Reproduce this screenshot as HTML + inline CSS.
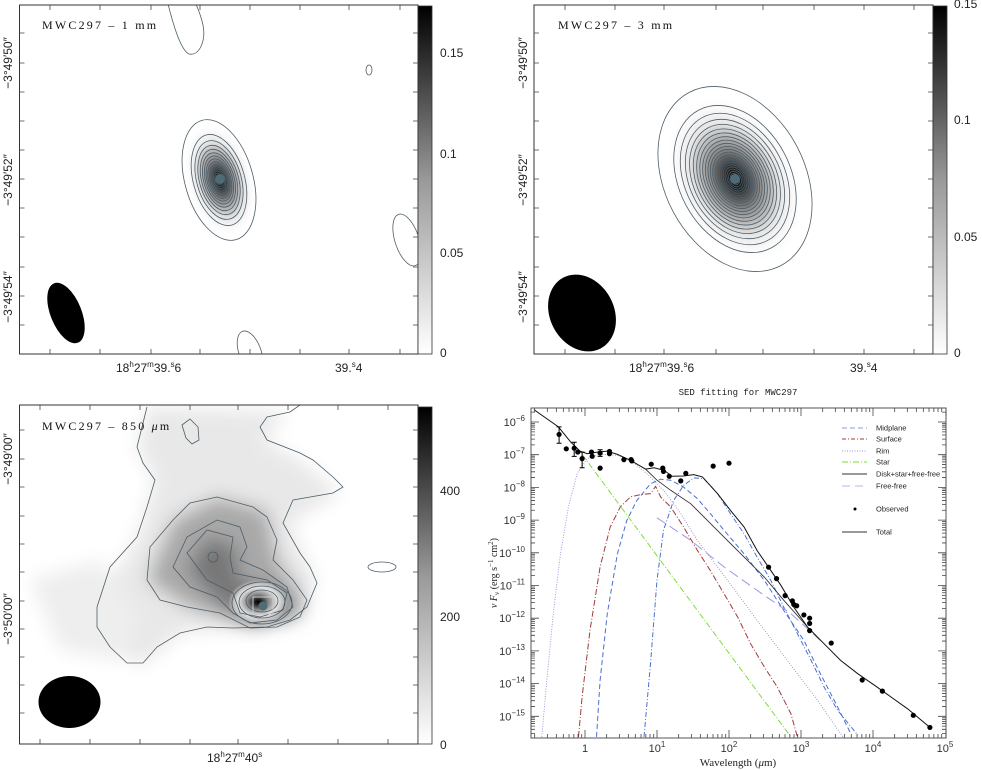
<!DOCTYPE html>
<html><head><meta charset="utf-8"><style>
html,body{margin:0;padding:0;background:#fff;}
svg{display:block;font-family:"Liberation Sans",sans-serif;}
.ct{fill:none;stroke:#4d5d68;stroke-width:0.8;}
.ttl{font-family:"Liberation Serif",serif;font-size:12px;fill:#111;letter-spacing:2.2px;}
.lab{font-size:12px;fill:#222;}
.sml{font-size:7.5px;fill:#222;}
</style></head><body>
<svg id="fig" width="982" height="770" viewBox="0 0 982 770" xmlns="http://www.w3.org/2000/svg">
<defs>
<linearGradient id="cbar" x1="0" y1="1" x2="0" y2="0"><stop offset="0" stop-color="#fff"/><stop offset="0.5" stop-color="#999"/><stop offset="1" stop-color="#000"/></linearGradient>
<radialGradient id="g1"><stop offset="0" stop-color="#000"/><stop offset="0.12" stop-color="#222"/><stop offset="0.35" stop-color="#888"/><stop offset="0.65" stop-color="#e4e4e4"/><stop offset="1" stop-color="#fff" stop-opacity="0"/></radialGradient>
<filter id="blur8"><feGaussianBlur stdDeviation="9"/></filter>
<clipPath id="c1"><rect x="19" y="5" width="399" height="349"/></clipPath>
<clipPath id="c2"><rect x="534" y="5" width="399" height="349"/></clipPath>
<clipPath id="c3"><rect x="19" y="405" width="399" height="339"/></clipPath>
<clipPath id="c4"><rect x="531" y="408" width="415" height="330"/></clipPath>
</defs>

<!-- Panel 1: 1 mm -->
<g>
<g clip-path="url(#c1)">
<ellipse cx="220" cy="180" rx="34" ry="60" transform="rotate(-16 220 180)" fill="url(#g1)"/>
<g id="cont1"></g>
<path class="ct" d="M167,0 C172,20 180,50 189,54 C200,56 206,40 203,25 C200,12 196,4 194,0"/>
<ellipse class="ct" cx="369" cy="70" rx="3" ry="5"/>
<ellipse class="ct" cx="407" cy="240" rx="12" ry="27" transform="rotate(-18 407 240)"/>
<ellipse class="ct" cx="250" cy="352" rx="11" ry="22" transform="rotate(-20 250 352)"/>
<ellipse cx="66" cy="313" rx="15.5" ry="32" transform="rotate(-22 66 313)" fill="#000"/>
<circle cx="220" cy="179" r="5" fill="#4f6b77"/>
</g>
<rect x="19.5" y="5" width="398.5" height="349" fill="none" stroke="#333" stroke-width="1"/>
<rect x="418" y="6" width="14" height="348" fill="url(#cbar)" stroke="#333" stroke-width="0.8"/>
<text class="ttl" x="42" y="29">MWC297 – 1 mm</text>
<text class="lab" x="440" y="57">0.15</text>
<text class="lab" x="440" y="158">0.1</text>
<text class="lab" x="440" y="257">0.05</text>
<text class="lab" x="440" y="357">0</text>
<text class="lab" x="116" y="372">18<tspan font-size="8" dy="-5">h</tspan><tspan dy="5">27</tspan><tspan font-size="8" dy="-5">m</tspan><tspan dy="5">39.</tspan><tspan font-size="8" dy="-5">s</tspan><tspan dy="5">6</tspan></text>
<text class="lab" x="335" y="372">39.<tspan font-size="8" dy="-5">s</tspan><tspan dy="5">4</tspan></text>
<text class="lab" transform="translate(12,63) rotate(-90)" text-anchor="middle">−3°49′50″</text>
<text class="lab" transform="translate(12,180) rotate(-90)" text-anchor="middle">−3°49′52″</text>
<text class="lab" transform="translate(12,297) rotate(-90)" text-anchor="middle">−3°49′54″</text>
</g>

<!-- Panel 2: 3 mm -->
<g>
<g clip-path="url(#c2)">
<ellipse cx="735" cy="179" rx="62" ry="90" transform="rotate(-28 735 179)" fill="url(#g1)"/>
<g id="cont2"></g>
<ellipse cx="582" cy="313" rx="32" ry="40" transform="rotate(-28 582 313)" fill="#000"/>
<circle cx="735" cy="179" r="5" fill="#4f6b77"/>
</g>
<rect x="534" y="5" width="399" height="349" fill="none" stroke="#333" stroke-width="1"/>
<rect x="933" y="6" width="14" height="348" fill="url(#cbar)" stroke="#333" stroke-width="0.8"/>
<text class="ttl" x="558" y="29">MWC297 – 3 mm</text>
<text class="lab" x="954" y="8">0.15</text>
<text class="lab" x="954" y="124">0.1</text>
<text class="lab" x="954" y="241">0.05</text>
<text class="lab" x="954" y="357">0</text>
<text class="lab" x="629" y="372">18<tspan font-size="8" dy="-5">h</tspan><tspan dy="5">27</tspan><tspan font-size="8" dy="-5">m</tspan><tspan dy="5">39.</tspan><tspan font-size="8" dy="-5">s</tspan><tspan dy="5">6</tspan></text>
<text class="lab" x="850" y="372">39.<tspan font-size="8" dy="-5">s</tspan><tspan dy="5">4</tspan></text>
<text class="lab" transform="translate(527,63) rotate(-90)" text-anchor="middle">−3°49′50″</text>
<text class="lab" transform="translate(527,180) rotate(-90)" text-anchor="middle">−3°49′52″</text>
<text class="lab" transform="translate(527,297) rotate(-90)" text-anchor="middle">−3°49′54″</text>
</g>

<!-- Panel 3: 850 um -->
<g>
<g clip-path="url(#c3)">
<g filter="url(#blur8)">
<path fill="#e8e8e8" d="M147,407 L137,447 L155,480 L137,537 L97,607 L110,647 L143,665 L180,633 L233,628 L290,620 L316,583 L290,523 L340,493 L300,460 L262,440 L290,412 Z"/>
<path fill="#eeeeee" d="M30,580 L100,560 L140,620 L120,660 L60,650 Z"/>
<path fill="#a8a8a8" d="M147,580 L173,520 L217,497 L267,510 L278,560 L306,600 L300,617 L250,628 L187,607 Z"/>
<path fill="#777" d="M187,570 L207,537 L235,545 L240,580 L280,590 L295,615 L255,625 L220,605 Z"/>
</g>
<ellipse cx="258" cy="602" rx="30" ry="22" fill="url(#g1)"/>
<g>
<path class="ct" d="M147,407 L137,447 L143,463 L155,480 L147,507 L137,537 L110,567 L97,607 L97,627 L110,647 L127,663 L143,663 L157,647 L180,633 L207,627 L233,628 L267,627 L290,620 L307,607 L317,583 L310,567 L300,553 L283,523 L293,500 L333,493 L343,487 L333,477 L313,460 L300,453 L267,440 L260,427 L267,417 L290,412 L300,405"/>
<path class="ct" d="M147,580 L150,547 L173,520 L190,503 L217,497 L253,507 L267,517 L277,540 L273,560 L293,580 L307,600 L300,617 L277,627 L250,628 L220,613 L187,607 L160,600 Z"/>
<path class="ct" d="M173,567 L187,537 L217,520 L240,527 L247,547 L240,560 L263,570 L287,587 L293,607 L277,620 L250,623 L233,613 L217,597 L190,587 Z"/>
<path class="ct" d="M187,553 L207,530 L233,537 L230,557 L233,573 L267,580 L287,593 L283,610 L260,617 L240,613 L233,593 L207,580 Z"/>
<ellipse class="ct" cx="262" cy="603" rx="30" ry="21"/>
<ellipse class="ct" cx="262" cy="602" rx="23" ry="16"/>
<ellipse class="ct" cx="262" cy="601" rx="16" ry="11"/>
<ellipse class="ct" cx="213" cy="557" rx="5" ry="5"/>
<path class="ct" d="M182,425 L190,419 L198,427 L199,440 L192,444 L186,438 Z"/>
<ellipse class="ct" cx="382" cy="567" rx="14" ry="5"/>
</g>
<rect x="253" y="597" width="20" height="17" fill="none" stroke="#ccc" stroke-width="1"/>
<circle cx="263" cy="606" r="4.5" fill="#4f6b77"/>
<ellipse cx="69.5" cy="702" rx="31" ry="26" fill="#000"/>
</g>
<rect x="19.5" y="405" width="398.5" height="339" fill="none" stroke="#333" stroke-width="1"/>
<rect x="418" y="407" width="14" height="337" fill="url(#cbar)" stroke="#333" stroke-width="0.8"/>
<text class="ttl" x="42" y="430">MWC297 – 850 <tspan font-style="italic">μ</tspan>m</text>
<text class="lab" x="440" y="495">400</text>
<text class="lab" x="440" y="621">200</text>
<text class="lab" x="440" y="749">0</text>
<text class="lab" x="207" y="762">18<tspan font-size="8" dy="-5">h</tspan><tspan dy="5">27</tspan><tspan font-size="8" dy="-5">m</tspan><tspan dy="5">40</tspan><tspan font-size="8" dy="-5">s</tspan></text>
<text class="lab" transform="translate(12,459) rotate(-90)" text-anchor="middle">−3°49′00″</text>
<text class="lab" transform="translate(12,619) rotate(-90)" text-anchor="middle">−3°50′00″</text>
</g>

<!-- Panel 4: SED -->
<g>
<text x="738" y="395" text-anchor="middle" font-family="Liberation Mono, monospace" font-size="9" fill="#222">SED fitting for MWC297</text>
<g clip-path="url(#c4)" id="sedMarks"></g>
<rect x="531" y="408" width="415" height="330" fill="none" stroke="#555" stroke-width="1"/>
<g id="sedAxes"></g>
<text x="738" y="766" text-anchor="middle" font-family="Liberation Serif, serif" font-size="11" fill="#222">Wavelength (<tspan font-style="italic">μ</tspan>m)</text>
<text transform="translate(497,573) rotate(-90)" text-anchor="middle" font-family="Liberation Serif, serif" font-size="10" fill="#222"><tspan font-style="italic">ν F</tspan><tspan font-size="7" dy="2">ν</tspan><tspan dy="-2"> (erg s</tspan><tspan font-size="7" dy="-4">−1</tspan><tspan dy="4"> cm</tspan><tspan font-size="7" dy="-4">2</tspan><tspan dy="4">)</tspan></text>
<g id="legend"></g>
</g>
</svg>
<script>
// ===== SED data (log10 wavelength [um], log10 nuFnu [erg s-1 cm-2]) =====
var obsLogLam = [-0.36,-0.26,-0.15,-0.10,-0.04,0.09,0.10,0.21,0.21,0.34,0.34,0.54,0.64,0.65,0.92,1.08,1.09,1.17,1.33,1.40,1.78,2.00,2.55,2.66,2.78,2.88,2.90,2.94,3.04,3.12,3.12,3.12,3.42,3.85,4.13,4.56,4.79];
var obsLogF   = [-6.38,-6.82,-6.80,-6.92,-7.12,-6.92,-7.05,-6.95,-7.41,-6.90,-6.97,-7.15,-7.15,-7.19,-7.29,-7.41,-7.51,-7.66,-7.80,-7.57,-7.35,-7.26,-10.44,-10.79,-11.31,-11.47,-11.58,-11.62,-11.90,-12.00,-12.16,-12.38,-12.76,-13.89,-14.23,-14.97,-15.34];
var obsErrIdx = [0,2,4,7];
var obsErrHi  = [-6.15,-6.62,-6.92,-6.85];
var obsErrLo  = [-6.65,-7.05,-7.40,-7.05];

var totalLogLam = [-0.71,-0.37,-0.20,-0.07,0.03,0.17,0.31,0.45,0.63,0.84,0.96,1.10,1.21,1.37,1.51,1.63,1.84,2.02,2.21,2.39,2.53,2.72,2.90,3.09,3.32,3.55,3.79,4.02,4.25,4.48,4.79];
var totalLogF   = [-5.62,-6.15,-6.61,-6.89,-6.97,-6.92,-6.89,-6.99,-7.17,-7.44,-7.40,-7.48,-7.66,-7.65,-7.61,-7.68,-8.19,-8.70,-9.21,-9.93,-10.38,-10.99,-11.66,-12.27,-12.78,-13.29,-13.70,-14.05,-14.41,-14.77,-15.34];
var diskLogLam = [0.84,1.00,1.19,1.47,1.70,1.93,2.21,2.49,2.76,3.09];
var diskLogF   = [-7.44,-7.78,-8.09,-8.50,-9.01,-9.52,-10.13,-10.74,-11.45,-12.27];
var midLogLam = [0.16,0.21,0.31,0.45,0.58,0.72,0.91,1.05,1.19,1.37,1.56,1.74,1.93,2.21,2.49,2.76,3.04,3.27,3.51,3.69];
var midLogF   = [-15.63,-13.90,-11.86,-10.03,-9.01,-8.40,-7.89,-7.75,-7.78,-7.99,-8.34,-8.80,-9.31,-10.03,-10.84,-11.76,-12.68,-13.70,-14.72,-15.53];
var mid2LogLam = [0.82,0.91,1.00,1.09,1.23,1.37,1.51,1.65,1.84,2.02,2.21,2.39,2.58,2.76,2.95,3.14,3.32,3.51,3.79];
var mid2LogF   = [-15.63,-13.39,-10.84,-9.31,-8.40,-7.94,-7.71,-7.73,-8.19,-8.80,-9.42,-10.13,-10.84,-11.66,-12.47,-13.29,-14.10,-14.82,-15.58];
var surfLogLam = [-0.09,-0.04,0.07,0.21,0.35,0.49,0.63,0.77,0.91,0.98,1.05,1.19,1.37,1.56,1.74,1.93,2.12,2.30,2.49,2.67,2.86,2.95];
var surfLogF   = [-15.63,-14.41,-12.37,-10.43,-9.21,-8.60,-8.29,-8.22,-8.19,-7.97,-8.29,-8.60,-9.21,-9.92,-10.54,-11.25,-11.96,-12.78,-13.49,-14.10,-14.92,-15.63];
var rimLogLam = [-0.60,-0.53,-0.44,-0.34,-0.23,-0.11,0.03,0.21,0.45,0.63,0.86,1.09,1.33,1.56,1.84,2.12,2.39,2.67,2.95,3.23,3.58];
var rimLogF   = [-15.63,-13.90,-11.86,-10.03,-8.60,-7.58,-7.12,-6.99,-7.02,-7.17,-7.58,-8.09,-8.80,-9.62,-10.43,-11.25,-12.07,-12.88,-13.70,-14.51,-15.63];
var starLogLam = [-0.04,1.00,2.00,2.86];
var starLogF   = [-6.99,-10.09,-13.07,-15.63];
var ffLogLam = [1.00,1.47,1.93,2.39,2.86,3.32];
var ffLogF   = [-8.93,-9.62,-10.43,-11.15,-11.86,-12.78];
var xTickExp = [0,1,2,3,4,5];
var yTickExp = [-6,-7,-8,-9,-10,-11,-12,-13,-14,-15];
var legendLabels = ["Midplane","Surface","Rim","Star","Disk+star+free-free","Free-free","Observed","Total"];

var NS = "http://www.w3.org/2000/svg";
function X(l){ return 585 + 72*l; }
function Y(f){ return 422 + (-6 - f)*32.7; }
function mk(tag, attrs, parent){ var e=document.createElementNS(NS,tag); for(var k in attrs) e.setAttribute(k,attrs[k]); parent.appendChild(e); return e; }
function pathFrom(lx, ly){ var d=""; for(var i=0;i<lx.length;i++){ d+=(i?"L":"M")+X(lx[i]).toFixed(1)+","+Y(ly[i]).toFixed(1); } return d; }

var marks = document.getElementById("sedMarks");
var series = [
 [rimLogLam, rimLogF, "#9a8fd8", "1,1.5", "rim-curve", 0.9],
 [starLogLam, starLogF, "#7ddc3a", "6,2,1,2", "star-curve", 1],
 [surfLogLam, surfLogF, "#a0393a", "6,2,1,2", "surface-curve", 1],
 [midLogLam, midLogF, "#4a6fd0", "5,3", "midplane-curve", 1],
 [mid2LogLam, mid2LogF, "#4a6fd0", "5,2,1,2", "midplane-hot-curve", 1],
 [ffLogLam, ffLogF, "#9a9ae0", "10,5", "free-free-curve", 1],
 [diskLogLam, diskLogF, "#333", "", "disk-star-ff-curve", 0.9],
 [totalLogLam, totalLogF, "#111", "", "total-curve", 1]
];
series.forEach(function(s){
  var p = mk("path", {d:pathFrom(s[0],s[1]), fill:"none", stroke:s[2], "stroke-width":s[5], "stroke-dasharray":s[3]}, marks);
  
  
});
obsLogLam.forEach(function(l,i){
  var c = mk("circle", {cx:X(l), cy:Y(obsLogF[i]), r:2.6, fill:"#000"}, marks);
  
  
});
obsErrIdx.forEach(function(idx,j){
  var x=X(obsLogLam[idx]);
  var e = mk("path", {d:"M"+x+","+Y(obsErrHi[j])+"V"+Y(obsErrLo[j])+"M"+(x-2.5)+","+Y(obsErrHi[j])+"h5M"+(x-2.5)+","+Y(obsErrLo[j])+"h5", stroke:"#000", "stroke-width":1, fill:"none"}, marks);
  
  
});

var ax = document.getElementById("sedAxes");
var td="";
for(var d=-1; d<=4; d++){ for(var k=1;k<=9;k++){ var x=X(d+Math.log10(k)); if(x<531||x>946) continue; var L=(k==1)?8:4; td+="M"+x+",738v-"+L+"M"+x+",408v"+L; } }
td+="M946,738v-8M946,408v8";
for(var d2=-16; d2<=-6; d2++){ for(var k2=1;k2<=9;k2++){ var y=Y(d2+Math.log10(k2)); if(y<408||y>738) continue; var L2=(k2==1)?8:4; td+="M531,"+y+"h"+L2+"M946,"+y+"h-"+L2; } }
var tp = mk("path",{d:td, stroke:"#444","stroke-width":0.8, fill:"none"}, ax);


xTickExp.forEach(function(e){
  var t = mk("text",{x:X(e), y:752, "text-anchor":"middle","font-size":11, fill:"#333"}, ax);
  
  
  if(e==0){ t.textContent="1"; } else { t.textContent="10"; var s=mk("tspan",{"font-size":8, dy:-5},t); s.textContent=String(e); }
});
yTickExp.forEach(function(e){
  var t = mk("text",{x:525, y:Y(e)+4, "text-anchor":"end","font-size":11, fill:"#333"}, ax);
  
  
  t.textContent="10"; var s=mk("tspan",{"font-size":8, dy:-5},t); s.textContent="−"+String(-e);
});

var lg = document.getElementById("legend");
var lgY=[428,439,451,462,474,486,509,532];
var lgStyle=[["#8a9ae0","5,3"],["#a0393a","4,2,1,2"],["#9a8fd8","1,1.5"],["#7ddc3a","6,2,1,2"],["#333",""],["#b8b0ee","8,5"],null,["#333",""]];
legendLabels.forEach(function(lab,i){
  var g = mk("g",{},lg);
  
  
  if(lgStyle[i]){ mk("path",{d:"M842,"+lgY[i]+"h25", stroke:lgStyle[i][0], "stroke-width":1, "stroke-dasharray":lgStyle[i][1], fill:"none"}, g); }
  else { mk("circle",{cx:855, cy:lgY[i], r:1.5, fill:"#000"}, g); }
  var t = mk("text",{x:876, y:lgY[i]+2.5, class:"sml"}, g); t.textContent=lab;
});

function contourSet(gid, cx, cy, rx0, ry0, rot, n, minScale){
  var g=document.getElementById(gid);
  for(var i=0;i<n;i++){
    var s = 1 - (1-minScale)*Math.sqrt(i/(n-1));
    var e = mk("ellipse",{cx:cx, cy:cy, rx:(rx0*s).toFixed(1), ry:(ry0*s).toFixed(1), transform:"rotate("+rot+" "+cx+" "+cy+")", class:"ct"}, g);
    
    
  }
}
contourSet("cont1", 219, 180, 34, 62, -16, 15, 0.08);
contourSet("cont2", 735, 179, 70, 98, -28, 22, 0.06);

function mapTicks(x0,y0,x1,y1,xs,ys){
  var d="";
  xs.forEach(function(x){ d+="M"+x+","+y1+"v-5M"+x+","+y0+"v5"; });
  ys.forEach(function(y){ d+="M"+x0+","+y+"h5M"+x1+","+y+"h-5"; });
  var p = mk("path",{d:d, stroke:"#444","stroke-width":0.8,fill:"none"}, document.getElementById("fig"));
  
  
}
mapTicks(19.5,5,418,354,[50,100,151,200,250,300,349,400],[33,63,92,121,150,179,208,237,267,296,325]);
mapTicks(534,5,933,354,[565,615,664,716,763,814,864,914],[33,63,92,121,150,179,208,237,267,296,325]);
mapTicks(19.5,405,418,744,[40,90,140,190,238,288,338,388],[430,459,487,516,544,572,601,629,657,685,713]);
</script>
</body></html>
